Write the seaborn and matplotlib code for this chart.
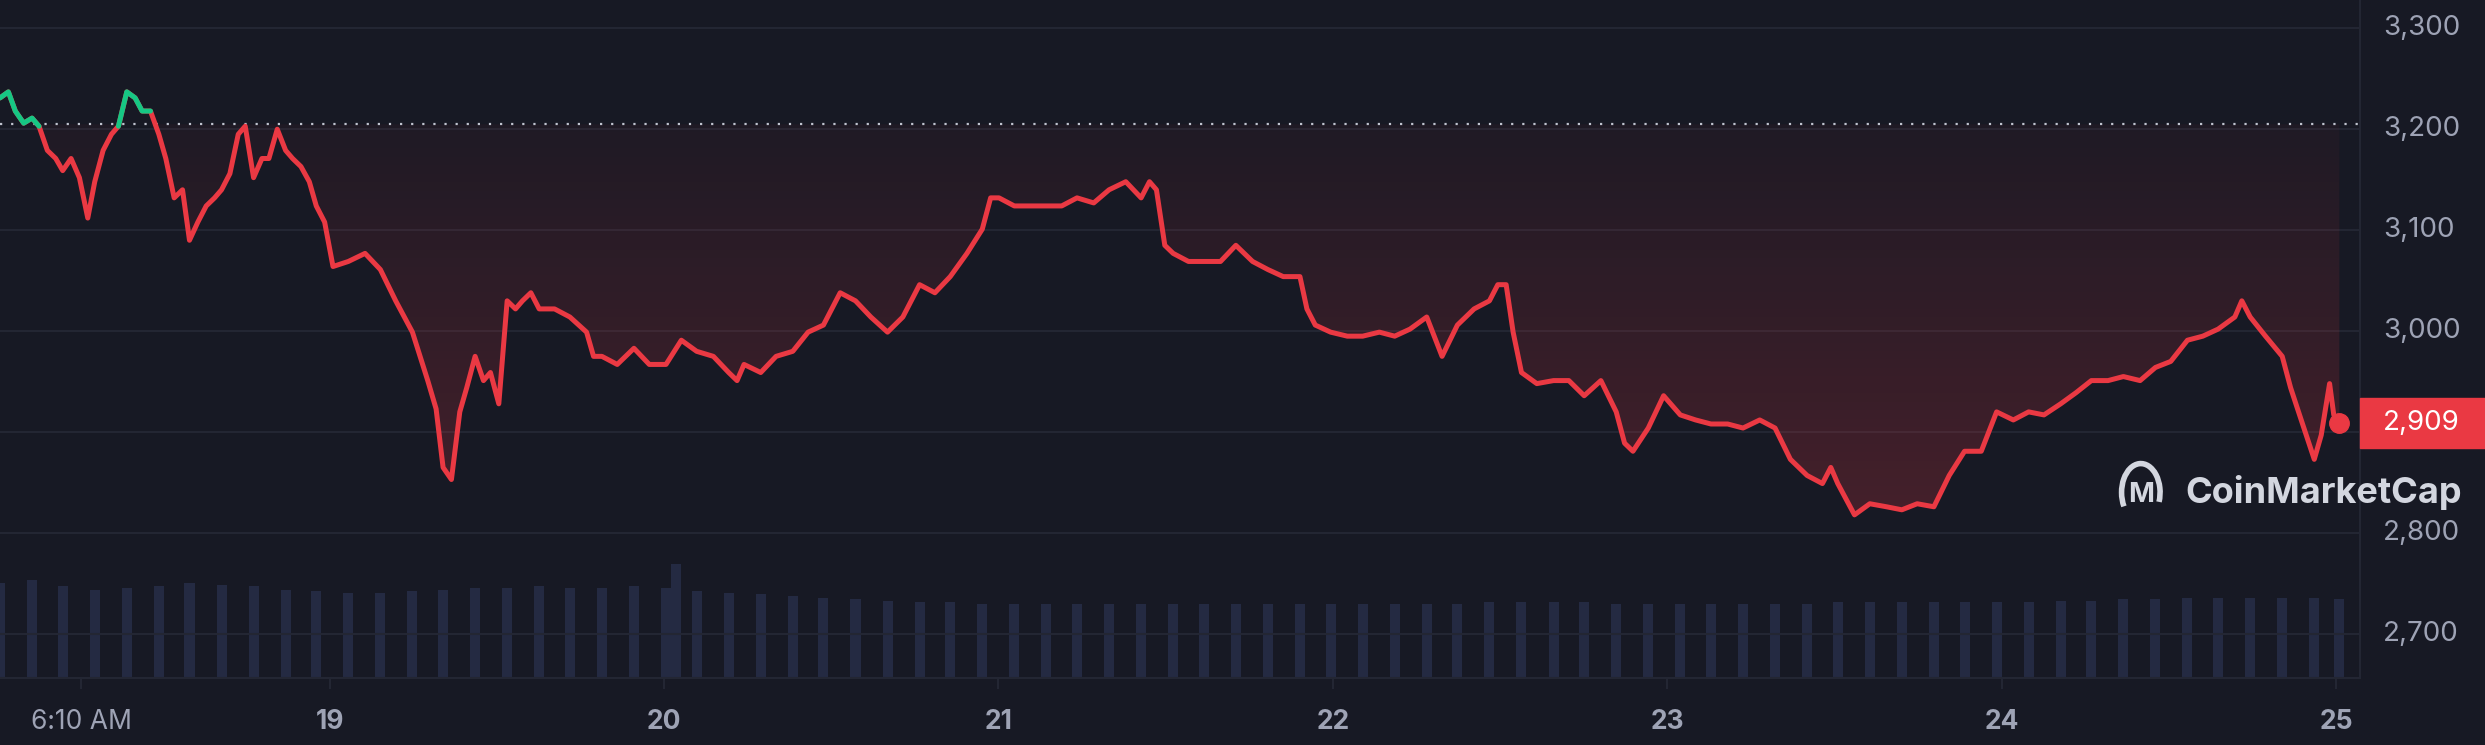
import numpy as np
import pandas as pd
import seaborn as sns
import matplotlib.pyplot as plt
from matplotlib.patches import Rectangle, Arc
from matplotlib.path import Path
from matplotlib.colors import LinearSegmentedColormap

# hours after Nov 18 00:20, and ETH price
hours = [0.0, 0.6, 1.1, 1.7, 2.3, 2.8, 3.4, 4.0, 4.5, 5.1, 5.7, 6.3, 6.8, 7.4, 8.0, 8.5, 9.1, 9.7,
         10.2, 10.8, 11.4, 11.9, 12.5, 13.1, 13.6, 14.2, 14.8, 15.4, 15.9, 16.5, 17.1, 17.6, 18.2,
         18.8, 19.3, 19.9, 20.5, 21.0, 21.6, 22.2, 22.7, 23.3, 23.9, 25.0, 26.2, 27.3, 28.4, 29.6,
         30.7, 31.3, 31.8, 32.4, 33.0, 33.5, 34.1, 34.7, 35.2, 35.8, 36.4, 37.0, 37.5, 38.1, 38.7,
         39.8, 40.9, 42.1, 42.6, 43.2, 44.3, 45.5, 46.6, 47.8, 48.9, 50.0, 51.2, 52.3, 52.9, 53.4,
         54.6, 55.7, 56.9, 58.0, 59.1, 60.3, 61.4, 62.5, 63.7, 64.8, 66.0, 67.1, 68.2, 69.4, 70.5,
         71.1, 71.7, 72.8, 73.9, 75.1, 76.2, 77.3, 78.5, 79.6, 80.8, 81.9, 82.5, 83.0, 83.6, 84.2,
         85.3, 86.4, 87.6, 88.7, 89.9, 91.0, 92.1, 93.3, 93.8, 94.4, 95.5, 96.7, 97.8, 99.0, 100.1,
         101.2, 102.4, 103.5, 104.6, 105.8, 106.9, 107.5, 108.1, 108.6, 109.2, 110.3, 111.5, 112.6,
         113.7, 114.9, 116.0, 116.6, 117.2, 118.3, 119.4, 120.6, 121.7, 122.8, 124.0, 125.1, 126.3,
         127.4, 128.5, 129.7, 130.8, 131.4, 131.9, 133.1, 134.2, 135.4, 136.5, 137.6, 138.8, 139.9,
         141.0, 142.2, 143.3, 144.5, 145.6, 146.7, 147.9, 149.0, 150.1, 151.3, 152.4, 153.6, 154.7,
         155.8, 157.0, 158.1, 159.2, 160.4, 160.9, 161.5, 162.6, 163.8, 164.4, 164.9, 166.1, 166.6,
         167.2, 167.5, 167.9]
price = [3231, 3237, 3218, 3206, 3211, 3203, 3179, 3171, 3159, 3171, 3152, 3112, 3148, 3179, 3195,
         3203, 3237, 3231, 3218, 3218, 3195, 3171, 3132, 3140, 3090, 3108, 3124, 3132, 3140, 3156,
         3195, 3203, 3152, 3171, 3171, 3200, 3179, 3171, 3163, 3148, 3124, 3108, 3064, 3069, 3077,
         3061, 3030, 2999, 2951, 2923, 2865, 2853, 2920, 2944, 2975, 2951, 2959, 2928, 3030, 3022,
         3030, 3038, 3022, 3022, 3014, 2999, 2975, 2975, 2967, 2983, 2967, 2967, 2991, 2980, 2975,
         2959, 2951, 2967, 2959, 2975, 2980, 2999, 3006, 3038, 3030, 3014, 2999, 3014, 3046, 3038,
         3054, 3077, 3101, 3132, 3132, 3124, 3124, 3124, 3124, 3132, 3127, 3140, 3148, 3132, 3148,
         3140, 3085, 3077, 3069, 3069, 3069, 3085, 3069, 3061, 3054, 3054, 3022, 3006, 2999, 2995,
         2995, 2999, 2995, 3002, 3014, 2975, 3006, 3022, 3030, 3046, 3046, 2999, 2959, 2948, 2951,
         2951, 2936, 2951, 2920, 2889, 2881, 2904, 2936, 2917, 2912, 2908, 2908, 2904, 2912, 2904,
         2873, 2857, 2849, 2865, 2849, 2818, 2829, 2826, 2823, 2829, 2826, 2857, 2881, 2881, 2920,
         2912, 2920, 2917, 2928, 2939, 2951, 2951, 2955, 2951, 2964, 2970, 2991, 2995, 3002, 3014, 3030,
         3014, 2995, 2975, 2944, 2923, 2873, 2897, 2948, 2917, 2909]

# volume bars, every ~2.3 h, relative heights
vol_hours = [0.0, 2.3, 4.5, 6.8, 9.1, 11.4, 13.6, 15.9, 18.2, 20.5, 22.7, 25.0, 27.3, 29.6, 31.8,
             34.1, 36.4, 38.7, 40.9, 43.2, 45.5, 47.8, 48.5, 50.0, 52.3, 54.6, 56.9, 59.1, 61.4,
             63.7, 66.0, 68.2, 70.5, 72.8, 75.1, 77.3, 79.6, 81.9, 84.2, 86.4, 88.7, 91.0, 93.3,
             95.5, 97.8, 100.1, 102.4, 104.6, 106.9, 109.2, 111.5, 113.7, 116.0, 118.3, 120.6,
             122.8, 125.1, 127.4, 129.7, 131.9, 134.2, 136.5, 138.8, 141.0, 143.3, 145.6, 147.9,
             150.1, 152.4, 154.7, 157.0, 159.2, 161.5, 163.8, 166.1, 167.9]
volume = [60, 62, 58, 56, 57, 58, 60, 59, 58, 56, 55, 54, 54, 55, 56,
          57, 57, 58, 57, 57, 58, 57, 72, 55, 54, 53, 52, 51, 50,
          49, 48, 48, 47, 47, 47, 47, 47, 47, 47, 47, 47, 47, 47,
          47, 47, 47, 47, 47, 48, 48, 48, 48, 47, 47, 47,
          47, 47, 47, 47, 48, 48, 48, 48, 48, 48, 48, 49,
          49, 50, 50, 51, 51, 51, 51, 51, 50]

day_ticks = [18.257, 19, 20, 21, 22, 23, 24, 25]
day_labels = ['6:10 AM', '19', '20', '21', '22', '23', '24', '25']
y_ticks = [2700, 2800, 2900, 3000, 3100, 3200, 3300]
open_price = 3205
last_label = '2,909'

BG = '#171924'
GRID = '#232633'
RED = '#ea3943'
GREEN = '#16c784'
TXT = '#9ea3b5'

sns.set_style('dark', {'axes.facecolor': BG, 'figure.facecolor': BG})
plt.rcParams['font.family'] = ['Inter', 'DejaVu Sans']

df = pd.DataFrame({'day': 18.014 + np.array(hours) / 24, 'price': price})
vdf = pd.DataFrame({'day': 18.014 + np.array(vol_hours) / 24, 'vol': volume})

fig = plt.figure(figsize=(24.85, 7.45), dpi=100)
fig.patch.set_facecolor(BG)
ax = fig.add_axes([0, 0.0894, 0.9496, 0.9106])
x0, x1 = 18.014, 18.014 + 1489 / 211

# volume on a hidden twin axis
vax = ax.twinx()
vax.set_ylim(0, 428)
vax.bar(vdf['day'], vdf['vol'], width=0.03, color='#242a42', linewidth=0, zorder=1)
vax.set_yticks([])
for s in vax.spines.values():
    s.set_visible(False)
ax.set_zorder(vax.get_zorder() + 1)
ax.patch.set_visible(False)
vax.set_facecolor(BG)

for yt in y_ticks:
    ax.axhline(yt, color=GRID, lw=1.5, zorder=0)
ax.axhline(open_price, color='#c0c4d0', lw=1.6, ls=(0, (1, 4)), zorder=2)

# gradient fill between line and open price
d = df['day'].values
p = df['price'].values
poly = ax.fill_between(d, np.minimum(p, open_price), open_price, color='none', lw=0)
clip = Path.make_compound_path(*poly.get_paths())
grad = np.linspace(0, 1, 256).reshape(-1, 1)
cmap = LinearSegmentedColormap.from_list('g', [(0.92, 0.22, 0.26, 0.04), (0.92, 0.22, 0.26, 0.22)])
im = ax.imshow(grad, extent=[d[0], d[-1], 2820, open_price], aspect='auto', cmap=cmap,
               origin='upper', zorder=1)
im.set_clip_path(clip, transform=ax.transData)
ax.set_xlim(x0, x1)
ax.set_ylim(2656, 3328)
vax.set_xlim(x0, x1)

sns.lineplot(data=df, x='day', y='price', ax=ax, color=RED, lw=3.6, zorder=3)
green = np.where(p >= open_price - 8, p, np.nan)
ax.plot(d, green, color=GREEN, lw=3.6, zorder=4)
ax.plot(d[-1], p[-1], 'o', ms=14, color=RED, zorder=5)

ax.set_xlabel('')
ax.set_ylabel('')
ax.set_yticks([])
ax.set_xticks(day_ticks)
ax.set_xticklabels(day_labels)
ax.tick_params(axis='x', colors=GRID, length=8, width=1.5, pad=14, bottom=True)
for lbl in ax.get_xticklabels():
    lbl.set_color(TXT)
    lbl.set_fontsize(19)
    lbl.set_fontweight('normal' if 'AM' in lbl.get_text() else 'bold')
for s in ['top', 'left']:
    ax.spines[s].set_visible(False)
ax.spines['bottom'].set_color(GRID)
ax.spines['bottom'].set_linewidth(1.5)
ax.spines['right'].set_color(GRID)
ax.spines['right'].set_linewidth(1.5)

# right price labels (the one under the current-price box is hidden)
for yt in y_ticks:
    if abs(yt - p[-1]) < 40:
        continue
    ax.text(1.01, yt, f'{yt:,}', transform=ax.get_yaxis_transform(), color=TXT,
            fontsize=20, va='center', ha='left')
ax.add_patch(Rectangle((1.0, p[-1] - 25), 0.055, 50, transform=ax.get_yaxis_transform(),
                       color=RED, clip_on=False, zorder=6))
ax.text(1.01, p[-1], last_label, transform=ax.get_yaxis_transform(), color='white',
        fontsize=20, va='center', ha='left', zorder=7)

# watermark
fig.text(0.8795, 0.339, 'CoinMarketCap', color='#d3d6df', fontsize=26, fontweight='bold',
         va='center', ha='left')
fig.add_artist(Arc((0.8615, 0.339), 0.0155, 0.0775, theta1=-60, theta2=250, color='#d3d6df', lw=4))
fig.text(0.8615, 0.335, 'M', color='#d3d6df', fontsize=20, fontweight='bold', va='center', ha='center')

plt.savefig('out.png', dpi=100, facecolor=BG)
plt.close()
